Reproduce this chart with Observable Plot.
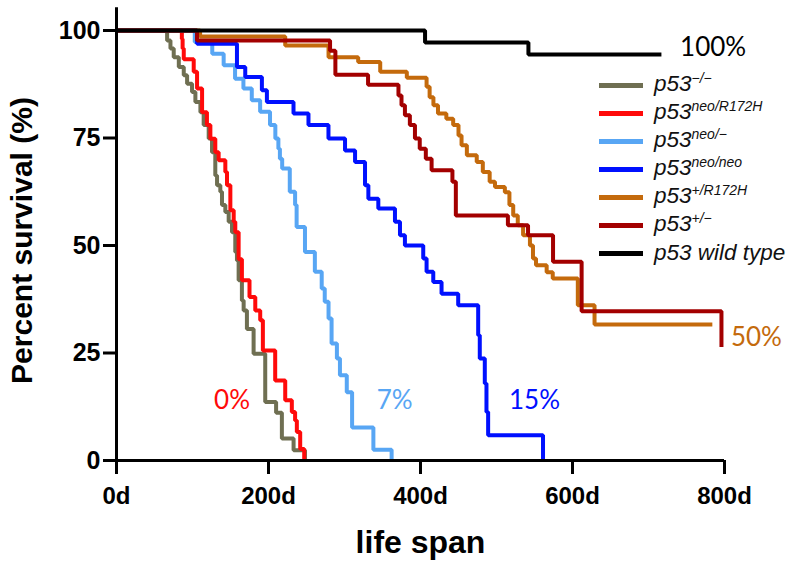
<!DOCTYPE html>
<html><head><meta charset="utf-8">
<script src="https://cdn.jsdelivr.net/npm/d3@7"></script>
<script src="https://cdn.jsdelivr.net/npm/@observablehq/plot@0.6"></script>
<style>
body{margin:0;background:#fff;}
#wrap{position:relative;width:800px;height:575px;}
#legend{position:absolute;left:599px;top:71px;font-family:"Liberation Sans",Arial,sans-serif;font-style:italic;font-size:22.5px;color:#111;}
.row{display:flex;align-items:center;height:28px;}
.sw{width:44px;height:5px;margin-right:11px;flex:none;}
.lab{line-height:28px;white-space:nowrap;}
.lab sup{font-size:14px;vertical-align:baseline;position:relative;top:-0.6em;}
</style></head><body><div id="wrap"><div id="legend"></div></div>
<script>
// ---- data (days, percent survival after each step) ----
const groupNames = ["p53-/-", "p53neo/R172H", "p53neo/-", "p53neo/neo", "p53+/R172H", "p53+/-", "p53 wild type"];
const groupBase = ["p53", "p53", "p53", "p53", "p53", "p53", "p53 wild type"];
const groupSup = ["\u2212/\u2212", "neo/R172H", "neo/\u2212", "neo/neo", "+/R172H", "+/\u2212", ""];
const groupColors = ["#6f6f52", "#ff0a0a", "#58a6f4", "#0010ff", "#c46a0c", "#a30000", "#000000"];

const p53KO = [[0,100],[66.6,97.7],[71,95.8],[75.3,93.8],[82,91.5],[88.5,89.6],[92.9,87.6],[99.4,85.7],[103.8,83.4],[110.4,81],[114.7,78],[121.3,74.9],[125.7,71.7],[130,66.3],[132.3,64],[136.6,62.5],[138.8,59.4],[143.2,57.8],[147.6,55.5],[152,53.1],[156.3,48.5],[158.5,46.5],[160.7,41.9],[165,37.2],[167.3,34.9],[171.6,30.6],[180.4,24.8],[195.7,13.6],[210,11.1],[217.6,5.1],[233,2.4],[248,0]];
const p53neoR172H = [[0,100],[86,98],[87,95.8],[88.5,93.3],[101.6,90.4],[106,86.5],[112.6,81],[119,78],[123.5,74.8],[130,71.7],[134.4,69.8],[143.2,67.1],[145.4,64],[149.8,58.2],[154.2,55.5],[156.3,53.1],[160.7,46.8],[165,41.9],[175,38],[182.6,34.9],[189.1,32.6],[192.6,25.6],[208.8,18.6],[222,14],[230.7,11.3],[235,9.3],[237.3,6.6],[241.7,2.7],[247,0]];
const p53neoKO = [[0,100],[103,97.3],[126,94.6],[141,91.9],[156,88.8],[167,86.5],[178,83.8],[189,81.1],[202,78],[209,74.9],[213,72.5],[215,70.2],[218,67.9],[228,62.5],[235,59.4],[237,54.3],[248,48.5],[261,43.9],[270,40],[274,36.9],[279,33],[283,27.2],[290,23.7],[294,19.8],[303,15.9],[310,7.7],[338,2.5],[362,0]];
const p53neoneo = [[0,100],[106,96.9],[158.5,91.5],[169.4,89.2],[191.3,86.1],[197.9,83.4],[232.9,80.7],[252.6,78],[278.9,74.9],[300.7,72.1],[313.9,69.4],[327,64],[331.4,60.9],[344.5,58.6],[366.4,55.5],[373,52.4],[379.5,50],[403.6,47],[408,43.9],[416.8,41.5],[427.7,38.8],[449.6,36.1],[475.9,29.1],[478,23.7],[484.6,17.9],[486.8,11.3],[489,5.9],[561.2,0]];
const p53hetR172H = [[0,100],[110,98.6],[222,96.5],[279,93.8],[318,92.7],[347,90.4],[382,89],[408,86.9],[412,84.5],[417,82.6],[423,80.7],[434,79.5],[443,78],[450,75.6],[454,73.3],[461,71],[474,69.4],[482,67.1],[491,64.8],[498,63.6],[511,62.4],[517,59.4],[522,57],[528,54.7],[535,52.4],[544,50],[548,47],[552,45.4],[566,43.8],[574,42.3],[607,36.1],[629,31.6],[784,31.6]];
const p53het = [[0,100],[106,97.7],[281,95.3],[288,89.7],[331,87.4],[371,84.9],[375,82.6],[379.5,80.3],[386,78],[392.7,74.9],[399,72.5],[407,70.2],[414.6,67.5],[442,64.8],[446.5,57],[515,54.7],[541.5,52.4],[574.4,46.2],[612,34.7],[796,34.7],[796,26.4]];
const p53WT = [[0,100],[406,97.2],[542,94.4],[717,94.4]];

const xTicks = [0, 200, 400, 600, 800];
const yTicks = [0, 25, 50, 75, 100];
const endLabels = ["0%", "7%", "15%", "50%", "100%"];
const endLabelDays = [152, 366, 550, 842, 785];
const endLabelPct = [14, 14, 14, 28.6, 96];
const endLabelColors = ["#ff0a0a", "#58a6f4", "#0010ff", "#c46a0c", "#000000"];

// ---- build table ----
const series = [p53KO, p53neoR172H, p53neoKO, p53neoneo, p53hetR172H, p53het, p53WT];
const rows = series.flatMap((s, i) => s.map(([d, v]) => ({g: groupNames[i], d, v})));
const labels = endLabels.map((t, i) => ({t, d: endLabelDays[i], v: endLabelPct[i], c: endLabelColors[i]}));

const chart = Plot.plot({
  width: 800, height: 575,
  marginLeft: 116, marginRight: 76, marginTop: 30, marginBottom: 115,
  x: {domain: [0, 800]},
  y: {domain: [0, 100]},
  color: {domain: groupNames, range: groupColors},
  style: {fontFamily: "'Liberation Sans', Arial, sans-serif", background: "#fff", color: "#000", overflow: "visible"},
  marks: [
    Plot.line(rows, {x: "d", y: "v", z: "g", stroke: "g", curve: "step-after", strokeWidth: 4, strokeLinejoin: "miter", strokeLinecap: "butt"}),
    Plot.ruleX([0], {y1: 0, y2: 105.3, strokeWidth: 3}),
    Plot.ruleY([0], {x1: 0, x2: 800, strokeWidth: 3}),
    Plot.axisY({ticks: yTicks, tickSize: 13, strokeWidth: 3, tickPadding: 3, fontSize: 25, fontWeight: "bold", label: null}),
    Plot.axisX({ticks: xTicks, tickSize: 14, strokeWidth: 3, tickPadding: 12, tickFormat: d => d + "d", fontSize: 24, fontWeight: "bold", label: null}),
    Plot.text(labels, {x: "d", y: "v", text: "t", fill: "c", fontSize: 26, fontFamily: "Lato"}),
    Plot.text(["Percent survival (%)"], {frameAnchor: "left", textAnchor: "middle", lineAnchor: "middle", dx: -94, dy: -5, rotate: -90, fontSize: 30, fontWeight: "bold"}),
    Plot.text(["life span"], {frameAnchor: "bottom", textAnchor: "middle", lineAnchor: "middle", dy: 82, fontSize: 32, fontWeight: "bold"})
  ]
});
document.getElementById("wrap").prepend(chart);

// ---- legend ----
const lg = document.getElementById("legend");
groupNames.forEach((g, i) => {
  const row = document.createElement("div"); row.className = "row";
  const sw = document.createElement("div"); sw.className = "sw"; sw.style.background = groupColors[i];
  const lab = document.createElement("span"); lab.className = "lab";
  lab.append(groupBase[i]);
  if (groupSup[i]) { const s = document.createElement("sup"); s.textContent = groupSup[i]; lab.append(s); }
  row.append(sw, lab); lg.append(row);
});
</script>
</body></html>
